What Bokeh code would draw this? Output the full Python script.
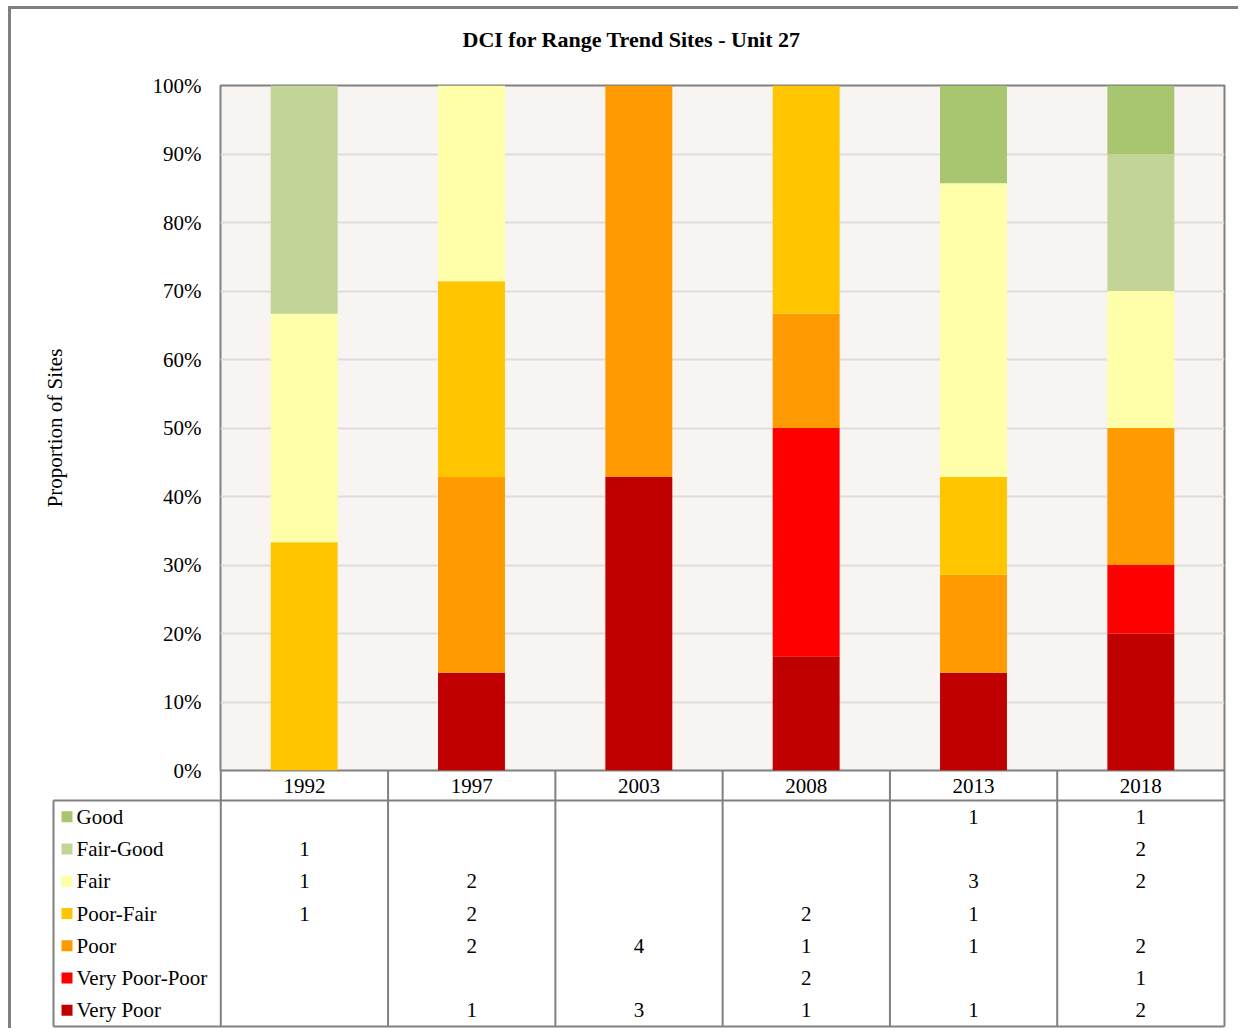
from bokeh.plotting import figure
from bokeh.models import Range1d, FactorRange, FixedTicker, NumeralTickFormatter, ColumnDataSource, Title
from bokeh.embed import file_html
from bokeh.resources import INLINE
import numpy as np

# ---- data ----
years = ["1992", "1997", "2003", "2008", "2013", "2018"]
categories = ["Good", "Fair-Good", "Fair", "Poor-Fair", "Poor", "Very Poor-Poor", "Very Poor"]
colors = ["#A8C56F", "#C2D597", "#FFFFAA", "#FFC600", "#FF9A00", "#FF0000", "#C00000"]
good           = [0, 0, 0, 0, 1, 1]
fair_good      = [1, 0, 0, 0, 0, 2]
fair           = [1, 2, 0, 0, 3, 2]
poor_fair      = [1, 2, 0, 2, 1, 0]
poor           = [0, 2, 4, 1, 1, 2]
very_poor_poor = [0, 0, 0, 2, 0, 1]
very_poor      = [0, 1, 3, 1, 1, 2]
y_ticks = [0, 0.1, 0.2, 0.3, 0.4, 0.5, 0.6, 0.7, 0.8, 0.9, 1.0]

counts = [good, fair_good, fair, poor_fair, poor, very_poor_poor, very_poor]
totals = np.sum(np.array(counts), axis=0)

FONT = "Liberation Serif"
GRAY = "#808080"

# ---- chart ----
data = {"year": years}
for cat, vals in zip(categories, counts):
    data[cat] = list(np.array(vals) / totals)
src = ColumnDataSource(data)

p1 = figure(width=1230, height=776, x_range=FactorRange(*years, range_padding=0),
            y_range=Range1d(0, 1), output_backend="svg", toolbar_location=None,
            x_axis_location=None, min_border_left=209, min_border_right=17,
            min_border_top=76, min_border_bottom=15)
p1.styles = {"margin-left": "8px", "margin-top": "6px",
             "border-left": "3px solid #808080", "border-top": "3px solid #808080"}
p1.title.text = "DCI for Range Trend Sites - Unit 27"
p1.title.text_font = FONT
p1.title.text_font_size = "22px"
p1.title.text_font_style = "bold"
p1.title.text_color = "black"
p1.title.align = "left"
p1.title.offset = 242
p1.title.standoff = 4
# spacer between title and frame
p1.add_layout(Title(text=" ", text_font_size="26px", standoff=0), "above")
p1.background_fill_color = "#F7F4F1"
p1.border_fill_color = "white"
p1.outline_line_color = GRAY
p1.outline_line_width = 2

stack_order = categories[::-1]
color_order = colors[::-1]
p1.vbar_stack(stack_order, x="year", width=0.4, color=color_order, line_color=None, source=src)

p1.yaxis.ticker = FixedTicker(ticks=y_ticks)
p1.yaxis.formatter = NumeralTickFormatter(format="0%")
p1.yaxis.major_tick_line_color = None
p1.yaxis.major_tick_out = 0
p1.yaxis.major_tick_in = 0
p1.yaxis.minor_tick_line_color = None
p1.yaxis.axis_line_color = None
p1.yaxis.major_label_standoff = 19
p1.yaxis.major_label_text_font = FONT
p1.yaxis.major_label_text_font_size = "21px"
p1.yaxis.major_label_text_color = "black"
p1.yaxis.axis_label = "Proportion of Sites"
p1.yaxis.axis_label_text_font = FONT
p1.yaxis.axis_label_text_font_size = "21px"
p1.yaxis.axis_label_text_font_style = "normal"
p1.yaxis.axis_label_text_color = "black"
p1.yaxis.axis_label_standoff = 83
p1.ygrid.ticker = FixedTicker(ticks=y_ticks)
p1.ygrid.grid_line_color = "#DDDDDD"
p1.ygrid.grid_line_width = 2
p1.xgrid.grid_line_color = None

# ---- data table ----
COLW = 1171 / 7.0
pad = 2 / COLW
p2 = figure(width=1230, height=258, x_range=Range1d(-1 - pad, 6 + pad), y_range=Range1d(258, 0),
            output_backend="svg", toolbar_location=None, x_axis_location=None,
            y_axis_location=None, min_border_left=40, min_border_right=15,
            min_border_top=0, min_border_bottom=0)
p2.styles = {"margin-left": "8px", "margin-top": "-12px", "border-left": "3px solid #808080"}
p2.outline_line_color = None
p2.xgrid.grid_line_color = None
p2.ygrid.grid_line_color = None
p2.background_fill_color = None
p2.border_fill_color = None

HEAD = 30
ROWH = 226 / 7.0
row_y = [HEAD + ROWH * (i + 0.5) for i in range(len(categories))]
col_x = [i + 0.5 for i in range(len(years))]

# grid lines
vx = list(range(0, len(years) + 1))
p2.segment(x0=vx, y0=[0] * len(vx), x1=vx, y1=[HEAD + 226] * len(vx), line_color=GRAY, line_width=2)
p2.segment(x0=[-1], y0=[HEAD], x1=[-1], y1=[HEAD + 226], line_color=GRAY, line_width=2)
p2.segment(x0=[-1, -1], y0=[HEAD, HEAD + 226], x1=[6, 6], y1=[HEAD, HEAD + 226], line_color=GRAY, line_width=2)

# year header
p2.text(x=col_x, y=[HEAD / 2] * len(years), text=years, text_align="center", text_baseline="middle",
        text_font={"value": FONT}, text_font_size="21px", text_color="black")

# legend column
p2.scatter(x=[-1 + 13.5 / COLW] * len(categories), y=row_y, marker="square", size=11,
           fill_color=colors, line_color=None)
p2.text(x=[-1 + 23 / COLW] * len(categories), y=row_y, text=categories, text_align="left",
        text_baseline="middle", text_font={"value": FONT}, text_font_size="21px", text_color="black")

# cell values
cx, cy, ct = [], [], []
for ri, vals in enumerate(counts):
    for ci, v in enumerate(vals):
        if v:
            cx.append(col_x[ci]); cy.append(row_y[ri]); ct.append(str(v))
p2.text(x=cx, y=cy, text=ct, text_align="center", text_baseline="middle",
        text_font={"value": FONT}, text_font_size="21px", text_color="black")

open("out.html", "w").write(file_html([p1, p2], INLINE))
